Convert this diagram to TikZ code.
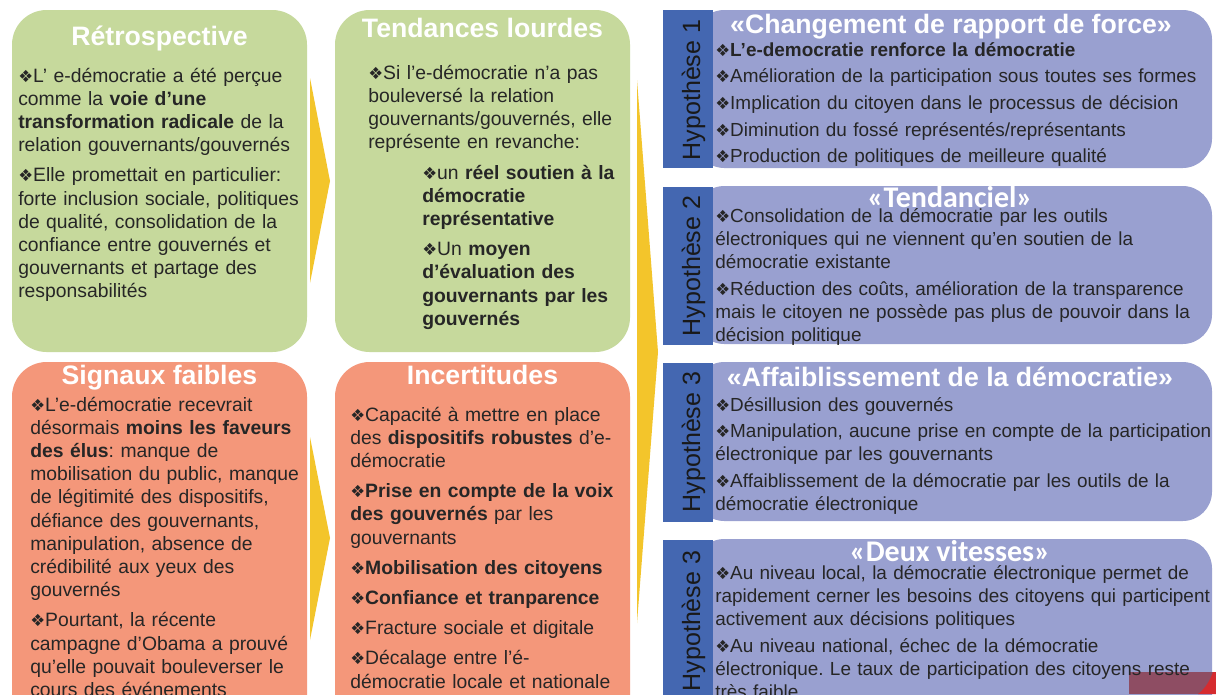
\documentclass[tikz,border=0pt]{standalone}
\usepackage{fontspec}
\setmainfont{Liberation Sans}
\newfontfamily\dejavu{DejaVu Sans}
\newfontfamily\carlito{Carlito}
\definecolor{gbox}{HTML}{C6D99C}
\definecolor{obox}{HTML}{F4977A}
\definecolor{pbox}{HTML}{99A0D0}
\definecolor{hbar}{HTML}{4467B1}
\definecolor{yarrow}{HTML}{F3C52B}
\definecolor{txt}{HTML}{262626}
\definecolor{redm}{HTML}{8E4D63}
\definecolor{redb}{HTML}{D52B2F}
\newcommand\bul{{\dejavu\fontsize{12.5}{12.5}\selectfont ❖}}
\frenchspacing
\begin{document}
\begin{tikzpicture}[x=0.75pt,y=-0.75pt,
  gbx/.style={fill=gbox, rounded corners=26pt},
  obx/.style={fill=obox, rounded corners=26pt},
  pbx/.style={fill=pbox, rounded corners=22pt},
  hbx/.style={fill=hbar},
  arr/.style={fill=yarrow},
  ttl/.style={anchor=base, text=white, inner sep=0, font=\bfseries\fontsize{20}{24}\selectfont},
  ttlc/.style={anchor=base, text=white, inner sep=0, font=\carlito\bfseries\fontsize{22.5}{26}\selectfont},
  body/.style={anchor=base west, inner sep=0, text width=420pt, align=left, text=txt, font=\frenchspacing\fontsize{14.5}{17.4}\selectfont},
  rbody/.style={body, font=\frenchspacing\fontsize{14.2}{17.4}\selectfont},
  hyp/.style={anchor=base, rotate=90, inner sep=0, text=black!90, font=\fontsize{18.75}{22}\selectfont},
]
\clip (0,0) rectangle (1216,694);
\fill[white] (0,0) rectangle (1216,694);

% left and middle boxes
\fill[gbx] (12,10) rectangle (307,352);
\fill[obx] (12,362) rectangle (307,760);
\fill[gbx] (335,10) rectangle (630,352);
\fill[obx] (335,362) rectangle (630,760);

% arrows
\fill[arr] (310,78) -- (330,181) -- (310,283) -- cycle;
\fill[arr] (310,437) -- (330,538) -- (310,640) -- cycle;
\fill[arr] (637,80) -- (658,352) -- (637,623) -- cycle;

% right boxes
\fill[pbx] (695,10) rectangle (1212,168);
\fill[hbx] (663,10) rectangle (713,168);
\fill[pbx] (695,186) rectangle (1212,344);
\fill[hbx] (663,187) rectangle (713,345);
\fill[pbx] (695,362) rectangle (1212,521);
\fill[hbx] (663,363) rectangle (713,522);
\fill[pbx] (695,539) rectangle (1212,760);
\fill[hbx] (663,540) rectangle (713,760);

% red corner
\fill[redm] (1129,672) rectangle (1216,694);
\fill[redb] (1216,672) -- (1216,694) -- (1198,694) .. controls (1206,688) and (1210,680) .. (1213,672) -- cycle;

% titles
\node[ttl] (t1) at (159.5,45) {Rétrospective};
\node[ttl] (t2) at (159.5,384) {Signaux faibles};
\node[ttl] (t3) at (482.5,37) {Tendances lourdes};
\node[ttl] (t4) at (482.5,384) {Incertitudes};
\node[ttl] (t5) at (951,33) {«Changement de rapport de force»};
\node[ttlc] (t6) at (950,207) {«Tendanciel»};
\node[ttl] (t7) at (950,386) {«Affaiblissement de la démocratie»};
\node[ttlc] (t8) at (950,561) {«Deux vitesses»};

% hypothesis labels
\node[hyp] (h1) at (700,90) {Hypothèse 1};
\node[hyp] (h2) at (700,266) {Hypothèse 2};
\node[hyp] (h3) at (700,442) {Hypothèse 3};
\node[hyp] (h4) at (700,621) {Hypothèse 3};

% bodies
\node[body] (lt) at (18,82) {\bul L’ e-démocratie a été perçue\\
comme la \textbf{voie d’une}\\
\textbf{transformation radicale} de la\\
relation gouvernants/gouvernés\\[5.25pt]
\bul Elle promettait en particulier:\\
forte inclusion sociale, politiques\\
de qualité, consolidation de la\\
confiance entre gouvernés et\\
gouvernants et partage des\\
responsabilités};

\node[body] (lb) at (30,411) {\bul L’e-démocratie recevrait\\
désormais \textbf{moins les faveurs}\\
\textbf{des élus}: manque de\\
mobilisation du public, manque\\
de légitimité des dispositifs,\\
défiance des gouvernants,\\
manipulation, absence de\\
crédibilité aux yeux des\\
gouvernés\\[5.25pt]
\bul Pourtant, la récente\\
campagne d’Obama a prouvé\\
qu’elle pouvait bouleverser le\\
cours des événements};

\node[body] (mt) at (368,79) {\bul Si l’e-démocratie n’a pas\\
bouleversé la relation\\
gouvernants/gouvernés, elle\\
représente en revanche:};

\node[body] (ms) at (422,179) {\bul un \textbf{réel soutien à la}\\
\textbf{démocratie}\\
\textbf{représentative}\\[5.25pt]
\bul Un \textbf{moyen}\\
\textbf{d’évaluation des}\\
\textbf{gouvernants par les}\\
\textbf{gouvernés}};

\node[body] (mb) at (350,421) {\bul Capacité à mettre en place\\
des \textbf{dispositifs robustes} d’e-\\
démocratie\\[5.25pt]
\bul\textbf{Prise en compte de la voix}\\
\textbf{des gouvernés} par les\\
gouvernants\\[5.25pt]
\bul\textbf{Mobilisation des citoyens}\\[5.25pt]
\bul\textbf{Confiance et tranparence}\\[5.25pt]
\bul Fracture sociale et digitale\\[5.25pt]
\bul Décalage entre l’é-\\
démocratie locale et nationale};

\node[rbody] (r1) at (715,56) {\bul\textbf{L’e-democratie renforce la démocratie}\\[2.6pt]
\bul Amélioration de la participation sous toutes ses formes\\[2.6pt]
\bul Implication du citoyen dans le processus de décision\\[2.6pt]
\bul Diminution du fossé représentés/représentants\\[2.6pt]
\bul Production de politiques de meilleure qualité};

\node[rbody] (r2) at (715,222) {\bul Consolidation de la démocratie par les outils\\
électroniques qui ne viennent qu’en soutien de la\\
démocratie existante\\[2.6pt]
\bul Réduction des coûts, amélioration de la transparence\\
mais le citoyen ne possède pas plus de pouvoir dans la\\
décision politique};

\node[rbody] (r3) at (715,411) {\bul Désillusion des gouvernés\\[2.6pt]
\bul Manipulation, aucune prise en compte de la participation\\
électronique par les gouvernants\\[2.6pt]
\bul Affaiblissement de la démocratie par les outils de la\\
démocratie électronique};

\node[rbody] (r4) at (715,579) {\bul Au niveau local, la démocratie électronique permet de\\
rapidement cerner les besoins des citoyens qui participent\\
activement aux décisions politiques\\[2.6pt]
\bul Au niveau national, échec de la démocratie\\
électronique. Le taux de participation des citoyens reste\\
très faible};
\end{tikzpicture}
\end{document}
